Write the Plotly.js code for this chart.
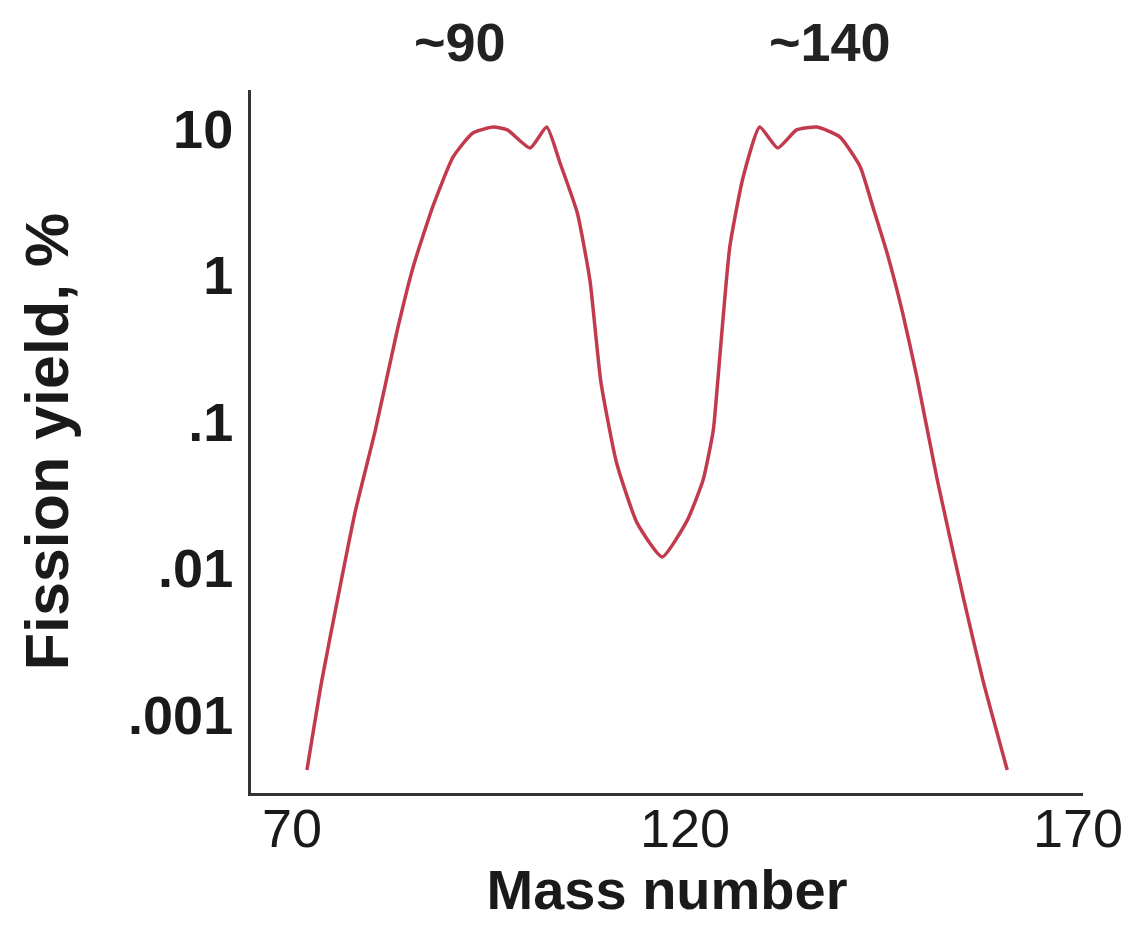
<!DOCTYPE html>
<html>
<head>
<meta charset="utf-8">
<script src="https://cdn.plot.ly/plotly-3.0.1.min.js"></script>
<style>html,body{margin:0;padding:0;background:#fff;}#chart{width:1126px;height:925px;}</style>
</head>
<body>
<div id="chart"></div>
<script>
// Mass number (x) and fission yield % (y)
const massNumber = [71.9, 73.8, 75.85, 78.0, 80.6, 83.4, 85.4, 87.9, 90.5, 93.0, 95.6, 97.4, 100.3, 102.4, 104.1, 106.3, 107.9, 109.3, 111.3, 113.9, 117.1, 120.3, 122.3, 123.6, 124.2, 125.7, 127.4, 129.5, 131.8, 134.2, 136.8, 139.7, 142.3, 143.9, 145.7, 147.7, 149.5, 152.1, 155.4, 157.9, 161.0];
const fissionYield = [0.000422, 0.00173, 0.00638, 0.0239, 0.088, 0.425, 1.14, 2.94, 6.44, 9.39, 10.3, 9.85, 7.42, 10.3, 5.86, 2.67, 0.93, 0.1875, 0.0525, 0.0205, 0.012, 0.0214, 0.0402, 0.088, 0.1995, 1.57, 4.70, 10.3, 7.42, 9.85, 10.3, 8.82, 5.51, 2.94, 1.43, 0.554, 0.203, 0.0402, 0.00638, 0.00173, 0.000422];

const xTickVals = [70, 120, 170];
const xTickText = ["70", "120", "170"];
const yTickVals = [0.001, 0.01, 0.1, 1, 10];
const yTickText = [".001", ".01", ".1", "1", "10"];

const peakLabels = ["~90", "~140"];
const peakLabelX = [91.4, 138.4];

const FONT = "Liberation Sans, Arial, sans-serif";

const trace = {
  x: massNumber,
  y: fissionYield,
  type: "scatter",
  mode: "lines",
  line: {color: "#c23a4e", width: 3.5, shape: "spline", smoothing: 0.5},
  hoverinfo: "x+y"
};

const annotations = peakLabels.map((t, i) => ({
  text: "<b>" + t + "</b>", x: peakLabelX[i], xref: "x", y: 1.068, yref: "paper",
  showarrow: false, xanchor: "center", yanchor: "middle",
  font: {family: FONT, size: 54, color: "#222"}
}));

const layout = {
  width: 1126, height: 925,
  margin: {l: 251, r: 43, t: 90, b: 132},
  paper_bgcolor: "#fff", plot_bgcolor: "#fff",
  showlegend: false,
  xaxis: {
    range: [64.78, 170.64],
    tickvals: xTickVals, ticktext: xTickText,
    showgrid: false, zeroline: false,
    showline: true, linecolor: "#333", linewidth: 3,
    ticks: "", ticklabelstandoff: -14,
    tickfont: {family: FONT, size: 54, color: "#1a1a1a"},
    title: {text: "<b>Mass number</b>", standoff: 0,
      font: {family: FONT, size: 56, color: "#1a1a1a"}}
  },
  yaxis: {
    type: "log",
    range: [-3.532, 1.266],
    tickvals: yTickVals, ticktext: yTickText,
    showgrid: false, zeroline: false,
    showline: true, linecolor: "#333", linewidth: 3,
    ticks: "", ticklabelstandoff: 4,
    tickfont: {family: FONT, size: 54, color: "#1a1a1a", weight: "bold"},
    title: {text: "<b>Fission yield, %</b>", standoff: 40,
      font: {family: FONT, size: 61, color: "#1a1a1a"}}
  },
  annotations: annotations
};

Plotly.newPlot("chart", [trace], layout, {staticPlot: true, displayModeBar: false});
</script>
</body>
</html>
